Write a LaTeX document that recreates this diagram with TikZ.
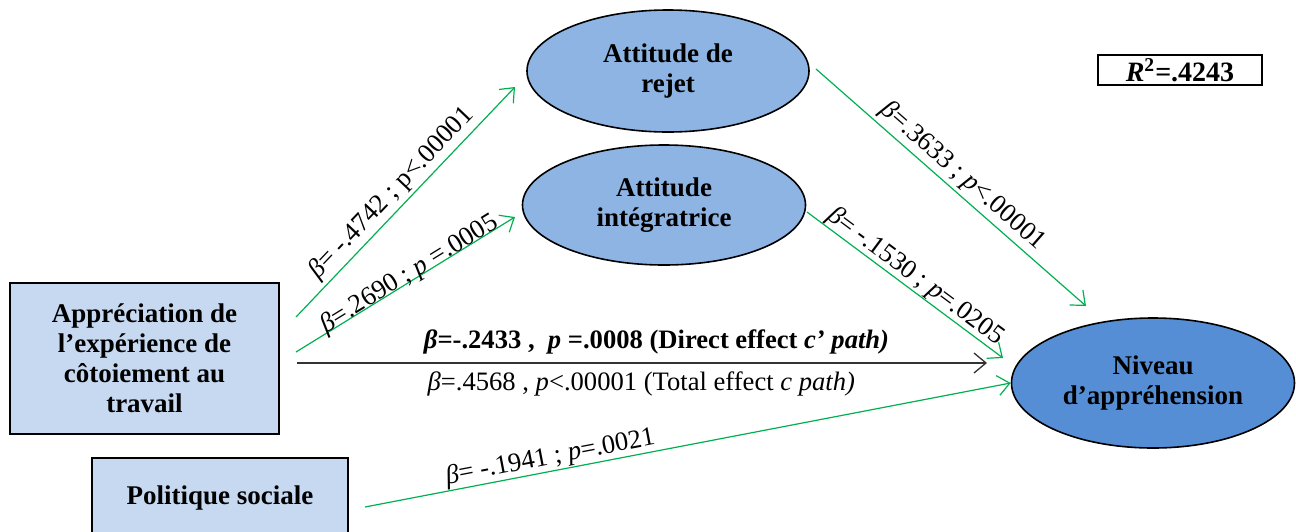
\documentclass[tikz,border=0pt]{standalone}
\usepackage{fontspec}
\setmainfont{Liberation Serif}
\usetikzlibrary{arrows.meta,shapes.geometric}

\definecolor{ovalblue}{HTML}{8EB4E3}
\definecolor{outblue}{HTML}{558ED5}
\definecolor{boxblue}{HTML}{C6D9F1}
\definecolor{pathgreen}{HTML}{00B050}

\begin{document}
\begin{tikzpicture}[x=0.5pt,y=-0.5pt,
  lbl/.style={font=\fontsize{13.5}{15}\selectfont\bfseries,align=center},
  oval/.style={ellipse,draw=black,line width=0.8pt,inner sep=0pt,lbl},
  varbox/.style={rectangle,draw=black,line width=0.8pt,fill=boxblue,inner sep=0pt,lbl},
  tip/.style={-{Straight Barb[length=6pt,width=10pt]}},
  link/.style={draw=pathgreen,line width=0.6pt,tip},
  mainlink/.style={draw=black!80,line width=0.65pt,tip},
  coef/.style={font=\fontsize{13.3}{15}\selectfont,inner sep=0pt},
]
\useasboundingbox (0,0) rectangle (1296,531);
\clip (0,0) rectangle (1296,531);

% variables
\node[oval,fill=ovalblue,minimum width=141pt,minimum height=61pt] (rejet) at (668,71) {Attitude de\\rejet};
\node[oval,fill=ovalblue,minimum width=141.5pt,minimum height=60pt] (integ) at (664,205) {Attitude\\intégratrice};
\node[oval,fill=outblue,minimum width=141.5pt,minimum height=65pt] (niveau) at (1153,383) {Niveau\\d’appréhension};
\node[varbox,minimum width=134.5pt,minimum height=75.5pt] (appr) at (144.5,358.5) {Appréciation de\\l’expérience de\\côtoiement au\\travail};
\node[varbox,minimum width=128pt,minimum height=40pt] (pol) at (220,498) {Politique sociale};
\node[draw=black,line width=1pt,minimum width=82pt,minimum height=15pt,inner sep=0pt,
      font=\fontsize{14}{15}\selectfont\bfseries] (rsq) at (1180,70) {\textit{R}\textsuperscript{2}=.4243};

% free ends of the paths
\coordinate (a1) at (296,317);
\coordinate (a2) at (296,352);
\coordinate (a3) at (297,363);
\coordinate (p1) at (365,507);
\coordinate (r1) at (515,87);
\coordinate (i1) at (515,217);
\coordinate (r2) at (816,69);
\coordinate (i2) at (807,212);
\coordinate (n1) at (987,363);
\coordinate (n3) at (1086,306);
\coordinate (n4) at (1003,358);

% paths
\draw[link] (a1) -- (r1)
  node[coef,sloped,pos=0.49,above=1.6pt] {\textit{β}= -.4742 ; p<.00001};
\draw[link] (a2) -- (i1)
  node[coef,sloped,pos=0.534,above=-3pt] {\textit{β}=.2690 ; \textit{p} =.0005};
\draw[link] (r2) -- (n3)
  node[coef,sloped,pos=0.504,above=1.6pt] {\textit{β}=.3633 ; \textit{p}<.00001};
\draw[link] (i2) -- (n4)
  node[coef,sloped,pos=0.513,above=0.2pt] {\textit{β}= -.1530 ; \textit{p}=.0205};
\draw[link] (p1) -- (niveau.west)
  node[coef,sloped,pos=0.291,above=0.3pt] {\textit{β}= -.1941 ; \textit{p}=.0021};
\draw[mainlink] (a3) -- (n1)
  node[coef,pos=0.521,above=4pt,font=\fontsize{13.3}{15}\selectfont\bfseries]
    {\textit{β}=-.2433 ,\ \ \textit{p} =.0008 (Direct effect \textit{c’ path)}}
  node[coef,pos=0.499,below=4pt]
    {\textit{β}=.4568 , \textit{p}<.00001 (Total effect \textit{c path)}};
\end{tikzpicture}
\end{document}
